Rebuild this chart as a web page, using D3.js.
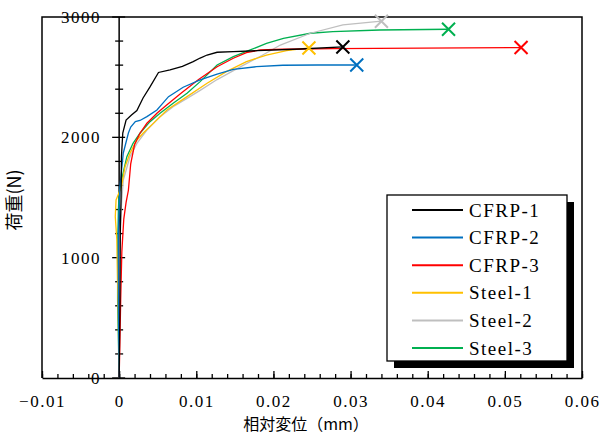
<!DOCTYPE html>
<html>
  <head>
    <script src="https://cdn.jsdelivr.net/npm/d3@7"></script>
    <style>
      body { margin: 0; background: #fff; }
      text { font-family: "Liberation Serif", serif; }
      .cjk { font-family: "Noto Sans CJK JP", sans-serif; }
    </style>
  </head>

  <body>
    <svg width="606" height="435"></svg>

    <script type="text/javascript">
      // load-displacement curves, [displacement mm, load N]
      var cfrp1 = [[0, 0], [0.0001, 600], [0.00015, 1200], [0.00025, 1500], [0.0003, 1840], [0.00047, 2036], [0.0009, 2144], [0.0016, 2186], [0.0023, 2223], [0.0031, 2327], [0.004, 2419], [0.0051, 2539], [0.0066, 2560], [0.0082, 2589], [0.0096, 2629], [0.0105, 2659], [0.0114, 2684], [0.0127, 2707], [0.0148, 2712], [0.0179, 2720], [0.0235, 2734], [0.029, 2751]];
      var cfrp2 = [[0, 0], [-0.0001, 600], [-0.0001, 1200], [0.0001, 1590], [0.00054, 1870], [0.0012, 2036], [0.0015, 2086], [0.0021, 2130], [0.0027, 2140], [0.0036, 2172], [0.0049, 2227], [0.0057, 2286], [0.0064, 2338], [0.0083, 2416], [0.0105, 2477], [0.0127, 2526], [0.0148, 2565], [0.0178, 2587], [0.0212, 2599], [0.0257, 2601], [0.0308, 2601]];
      var cfrp3 = [[0, 0], [0.0001, 300], [0.0002, 650], [0.00035, 1050], [0.0006, 1320], [0.0009, 1460], [0.0012, 1560], [0.0015, 1780], [0.002, 1940], [0.0027, 2034], [0.0036, 2117], [0.0049, 2200], [0.0062, 2270], [0.0081, 2370], [0.0103, 2480], [0.0127, 2587], [0.0148, 2657], [0.0165, 2704], [0.0183, 2726], [0.0212, 2732], [0.0277, 2737], [0.0521, 2746]];
      var steel1 = [[0, 0], [-0.0001, 450], [-0.0002, 800], [-0.0003, 1150], [-0.0005, 1340], [-0.0004, 1480], [0.0003, 1590], [0.00076, 1756], [0.0014, 1867], [0.0023, 1978], [0.0031, 2034], [0.0045, 2120], [0.0062, 2227], [0.0088, 2338], [0.0114, 2449], [0.0139, 2546], [0.0165, 2629], [0.0191, 2684], [0.0217, 2720], [0.0246, 2743]];
      var steel2 = [[0, 0], [0, 650], [0.0001, 1200], [0.00034, 1480], [0.00054, 1645], [0.0014, 1839], [0.0023, 1950], [0.0036, 2061], [0.0053, 2172], [0.007, 2255], [0.0088, 2324], [0.0105, 2390], [0.0127, 2480], [0.0157, 2585], [0.0185, 2680], [0.0209, 2767], [0.0248, 2865], [0.029, 2934], [0.034, 2965]];
      var steel3 = [[0, 0], [-0.0002, 650], [-0.0002, 1064], [-0.0001, 1396], [0, 1537], [0.0005, 1700], [0.001, 1839], [0.0018, 1950], [0.0027, 2034], [0.004, 2130], [0.0053, 2200], [0.007, 2283], [0.0088, 2366], [0.0105, 2463], [0.0127, 2601], [0.0148, 2670], [0.017, 2726], [0.0191, 2781], [0.0213, 2823], [0.0248, 2865], [0.0277, 2878], [0.0338, 2892], [0.0427, 2898]];

      var seriesNames = ["CFRP-1", "CFRP-2", "CFRP-3", "Steel-1", "Steel-2", "Steel-3"];
      var seriesData = [cfrp1, cfrp2, cfrp3, steel1, steel2, steel3];
      var seriesColors = ["#000000", "#0070C0", "#FF0000", "#FFC000", "#BFBFBF", "#00B050"];

      var xTicks = [-0.01, 0, 0.01, 0.02, 0.03, 0.04, 0.05, 0.06];
      var yTicks = [0, 1000, 2000, 3000];

      var svg = d3.select("svg");

      var xScale = d3.scaleLinear().domain([-0.01, 0.06]).range([42, 582]);
      var yScale = d3.scaleLinear().domain([0, 3000]).range([378, 17]);

      drawFrame();
      drawAxes();
      drawSeries();
      drawLegend();

      function drawFrame() {
        svg.append("path")
          .attr("d", "M42,378V17H582V378")
          .attr("fill", "none")
          .attr("stroke", "#000")
          .attr("stroke-width", 1.5);
      }

      function drawAxes() {
        // x axis: minor + major ticks pointing up
        var minor = d3.range(-0.01, 0.0601, 0.002);
        svg.append("g")
          .attr("transform", "translate(0,378)")
          .call(d3.axisBottom(xScale).tickValues(minor).tickSize(-4).tickFormat(""))
          .call((g) => g.select(".domain").remove())
          .selectAll("line").attr("stroke-width", 1.3);

        var xAxis = svg.append("g")
          .attr("transform", "translate(0,378)")
          .call(d3.axisBottom(xScale).tickValues(xTicks).tickSizeInner(-7).tickSizeOuter(0).tickPadding(17)
            .tickFormat((d) => d3.format("")(+d.toFixed(2))));
        xAxis.select(".domain").attr("stroke-width", 1.5);
        xAxis.selectAll("line").attr("stroke-width", 1.3);
        xAxis.selectAll("text")
          .style("font-family", "'Liberation Serif', serif")
          .attr("font-size", 17)
          .attr("letter-spacing", 1.5)
          .attr("fill", "#000");

        // y axis at x = 0 with crossing ticks
        var x0 = xScale(0);
        var g = svg.append("g").attr("class", "y_coordinate");
        g.append("line")
          .attr("x1", x0).attr("x2", x0)
          .attr("y1", yScale(0)).attr("y2", yScale(3000))
          .attr("stroke", "#000").attr("stroke-width", 1.5);

        var yMinor = d3.range(0, 3001, 200);
        g.selectAll(null)
          .data(yMinor)
          .enter()
          .append("line")
          .attr("x1", (d) => (d % 1000 === 0 ? x0 - 7 : x0 - 4))
          .attr("x2", (d) => (d % 1000 === 0 ? x0 + 6 : x0 + 4))
          .attr("y1", (d) => yScale(d))
          .attr("y2", (d) => yScale(d))
          .attr("stroke", "#000")
          .attr("stroke-width", 1.3);

        g.selectAll(null)
          .data(yTicks)
          .enter()
          .append("text")
          .attr("x", 101)
          .attr("y", (d) => yScale(d))
          .attr("dy", "0.35em")
          .attr("text-anchor", "end")
          .attr("font-size", 17)
          .attr("letter-spacing", 1.5)
          .text((d) => d);

        svg.append("text")
          .attr("class", "cjk")
          .attr("x", 306)
          .attr("y", 430)
          .attr("text-anchor", "middle")
          .attr("font-size", 16)
          .text("相対変位（mm）");

        svg.append("text")
          .attr("class", "cjk")
          .attr("transform", "translate(15,200) rotate(-90)")
          .attr("dy", "0.35em")
          .attr("text-anchor", "middle")
          .attr("font-size", 18)
          .text("荷重(N)");
      }

      function drawSeries() {
        var lineGenerator = d3
          .line()
          .x((d) => xScale(d[0]))
          .y((d) => yScale(d[1]));

        // draw in reverse so CFRP-1 ends up on top
        for (var i = seriesData.length - 1; i >= 0; i--) {
          svg.append("path")
            .attr("class", "line_path")
            .attr("fill", "none")
            .attr("stroke", seriesColors[i])
            .attr("stroke-width", 1.3)
            .attr("d", lineGenerator(seriesData[i]));
        }

        // X markers at failure point
        seriesData.forEach((data, i) => {
          var last = data[data.length - 1];
          var cx = xScale(last[0]);
          var cy = yScale(last[1]);
          var s = 6.5;
          svg.append("path")
            .attr("d", "M" + (cx - s) + "," + (cy - s) + "L" + (cx + s) + "," + (cy + s) +
              "M" + (cx - s) + "," + (cy + s) + "L" + (cx + s) + "," + (cy - s))
            .attr("stroke", seriesColors[i])
            .attr("stroke-width", 2)
            .attr("fill", "none");
        });
      }

      function drawLegend() {
        var g = svg.append("g").attr("id", "legend");
        g.append("rect")
          .attr("x", 394).attr("y", 202)
          .attr("width", 180).attr("height", 166)
          .attr("fill", "#000");
        g.append("rect")
          .attr("x", 387).attr("y", 195)
          .attr("width", 180).attr("height", 166)
          .attr("fill", "#fff")
          .attr("stroke", "#000")
          .attr("stroke-width", 1.3);

        var rows = g.selectAll(".row")
          .data(seriesNames)
          .enter()
          .append("g")
          .attr("class", "row")
          .attr("transform", (d, i) => "translate(0," + (210 + i * 27.6) + ")");

        rows.append("line")
          .attr("x1", 412).attr("x2", 463)
          .attr("stroke", (d, i) => seriesColors[i])
          .attr("stroke-width", 2);

        rows.append("text")
          .attr("x", 469)
          .attr("dy", "0.35em")
          .attr("font-size", 19)
          .attr("letter-spacing", 1.5)
          .text((d) => d);
      }
    </script>
  </body>
</html>
